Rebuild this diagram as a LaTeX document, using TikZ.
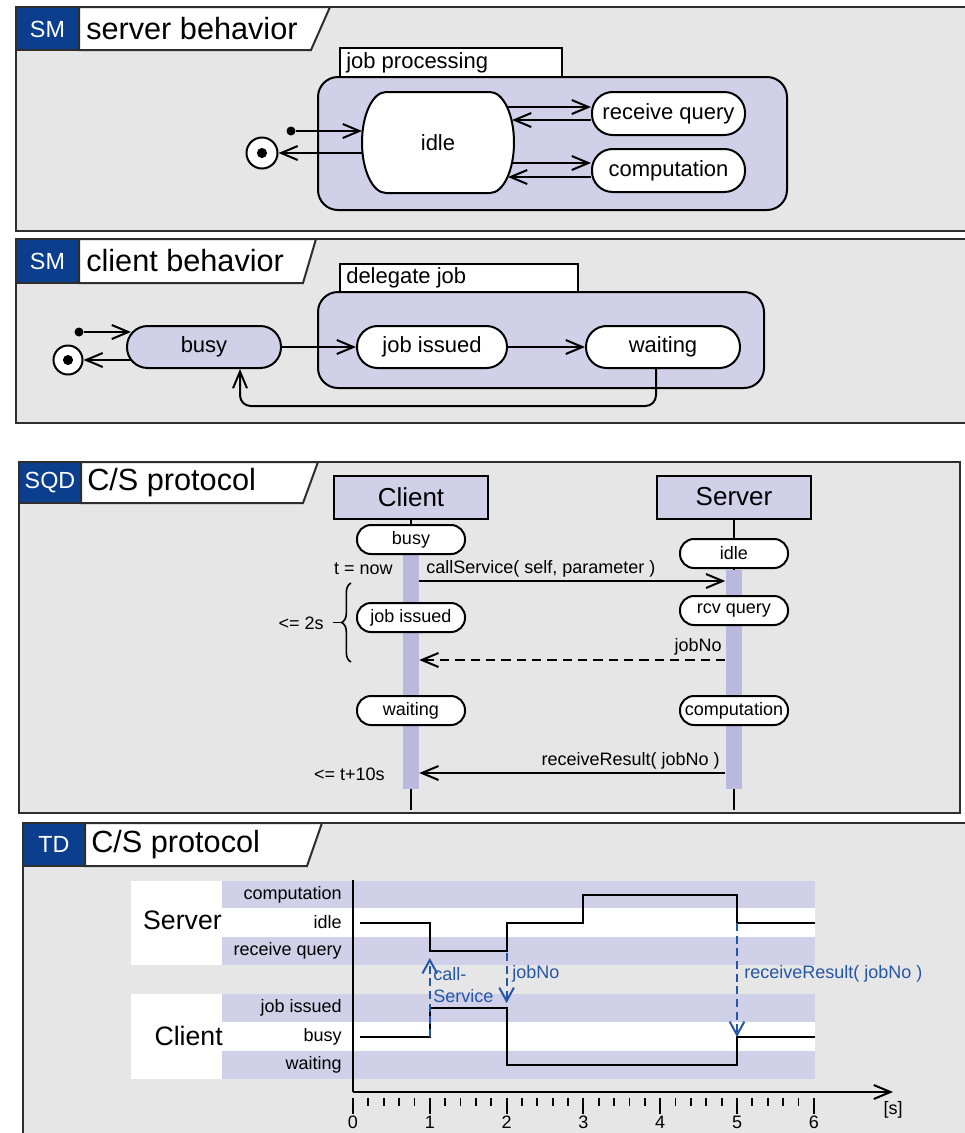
\documentclass[tikz,border=0pt]{standalone}
\usepackage{fontspec}
\setmainfont{Liberation Sans}
\usetikzlibrary{arrows.meta,decorations.pathreplacing,calc}
\definecolor{panelbg}{HTML}{E6E6E6}
\definecolor{lav}{HTML}{D0D0E8}
\definecolor{barcol}{HTML}{B9B9DD}
\definecolor{tabblue}{HTML}{0B3F8E}
\definecolor{msgblue}{HTML}{2656A6}
\definecolor{framecol}{HTML}{2E2E2E}
\newcommand\pxu{0.75pt}
\newcommand\fsz[1]{\fontsize{#1}{#1}\selectfont}
\begin{document}
\begin{tikzpicture}[x=0.75pt,y=-0.75pt,
  panel/.style={draw=framecol,line width=1.8pt,fill=panelbg},
  tabbox/.style={draw=framecol,line width=1.5pt,fill=tabblue},
  tabw/.style={draw=framecol,line width=1.5pt,fill=white},
  tabtxt/.style={text=white,font=\fsz{17.5},inner sep=0pt},
  titletxt/.style={font=\fsz{23},inner sep=0pt,anchor=west},
  comp/.style={draw,line width=1.5pt,fill=lav,rounded corners=15pt},
  ctab/.style={draw,line width=1.2pt,fill=white},
  ctabtxt/.style={font=\fsz{16.5},inner sep=0pt,anchor=west},
  stad/.style={draw,line width=1.5pt,fill=white,rectangle,rounded corners=#1,inner sep=1pt},
  smstate/.style={stad=15.5pt,minimum width=153*\pxu,minimum height=43*\pxu,font=\fsz{16.5}},
  sqstate/.style={stad=10.5pt,minimum width=108*\pxu,minimum height=29*\pxu,font=\fsz{13.5},inner xsep=0.5pt},
  head/.style={draw,line width=1.5pt,fill=lav,rectangle,minimum width=154*\pxu,minimum height=43*\pxu,font=\fsz{19.5},inner sep=0pt},
  barn/.style={fill=barcol,rectangle,minimum width=16*\pxu,inner sep=0pt},
  tr/.style={line width=1.5pt,-{Straight Barb[length=12.5pt,width=10.5pt]}},
  life/.style={line width=1.5pt},
  initdot/.style={circle,fill=black,inner sep=0pt,minimum size=9*\pxu},
  finalst/.style={circle,draw,line width=1.5pt,fill=white,inner sep=0pt,minimum size=31*\pxu,
    path picture={\fill[black] (path picture bounding box.center) circle (3.8pt);}},
  sqlbl/.style={font=\fsz{13.5},inner sep=0pt},
  tdlbl/.style={font=\fsz{13.5},inner sep=0pt},
  grplbl/.style={font=\fsz{20},inner sep=0pt},
  sig/.style={line width=1.6pt},
  bluearr/.style={draw=msgblue,line width=1.5pt,dash pattern=on 6pt off 3.5pt,-{Straight Barb[length=10pt,width=11pt]}},
  bluelbl/.style={text=msgblue,font=\fsz{13.5},inner sep=0pt}
]
\useasboundingbox (0,0) rectangle (965,1133);
\clip (0,0) rectangle (965,1133);
\fill[white] (0,0) rectangle (965,1133);

% ================= Panel 1: server behavior =================
\draw[panel] (16,7) rectangle (990,231);
\draw[tabw] (79,7) -- (330,7) -- (311,50) -- (79,50) -- cycle;
\draw[tabbox] (16,7) rectangle (79,50);
\node[tabtxt] (sm1) at (47.5,29) {SM};
\node[titletxt] (tt1) at (86,29) {server behavior};

\draw[ctab] (340,48) rectangle (562,77);
\node[ctabtxt] (jpl) at (346,63) {job processing};
\draw[comp] (318,77) rectangle (787,210);

\draw[line width=1.5pt,fill=white] (386,92) -- (490,92)
  arc[start angle=-90,end angle=90,x radius=24,y radius=50.5] -- (386,193)
  arc[start angle=90,end angle=270,x radius=24,y radius=50.5] -- cycle;
\node[font=\fsz{16.5}] (idle) at (438,142.5) {idle};
\coordinate (idlew1) at (362,131);
\coordinate (idlew2) at (362,153);
\coordinate (idlee1) at (508,107);
\coordinate (idlee2) at (512,120);
\coordinate (idlee3) at (512,163);
\coordinate (idlee4) at (508,177);

\node[smstate] (rq) at (668.5,113.5) {receive query};
\node[smstate] (cmp) at (668.5,170.5) {computation};

\draw[tr] (idlee1) -- (rq.west |- idlee1);
\draw[tr] (rq.west |- idlee2) -- (idlee2);
\draw[tr] (idlee3) -- (cmp.west |- idlee3);
\draw[tr] (cmp.west |- idlee4) -- (idlee4);

\node[initdot] (ini1) at (291,131) {};
\node[finalst] (fin1) at (262,153) {};
\draw[tr] (ini1) -- (idlew1);
\draw[tr] (idlew2) -- (fin1);

% ================= Panel 2: client behavior =================
\draw[panel] (16,239) rectangle (990,423);
\draw[tabw] (79,239) -- (316,239) -- (303,283) -- (79,283) -- cycle;
\draw[tabbox] (16,239) rectangle (79,283);
\node[tabtxt] (sm2) at (47.5,261) {SM};
\node[titletxt] (tt2) at (86,261) {client behavior};

\draw[ctab] (340,264) rectangle (578,292);
\node[ctabtxt] (djl) at (346,278) {delegate job};
\draw[comp] (318,292) rectangle (764,388);

\node[smstate,fill=lav,minimum width=154*\pxu,minimum height=42*\pxu] (busy) at (204,347) {busy};
\node[smstate,minimum width=150*\pxu,minimum height=42*\pxu] (jis) at (432,347) {job issued};
\node[smstate,minimum width=154*\pxu,minimum height=42*\pxu] (wait) at (663,347) {waiting};

\node[initdot] (ini2) at (79,332) {};
\node[finalst,minimum size=29*\pxu] (fin2) at (68,360) {};
\coordinate (busyw1) at (131,332);
\coordinate (busyw2) at (131,360);
\draw[tr] (ini2) -- (busyw1);
\draw[tr] (busyw2) -- (fin2);
\draw[tr] (busy) -- (jis);
\draw[tr] (jis) -- (wait);
\draw[tr,rounded corners=8pt] ($(wait.south)+(-7,0)$) |- ($(busy.south)+(36,37)$) -- ($(busy.south)+(36,0)$);

% ================= Panel 3: SQD =================
\draw[panel] (19,462) rectangle (960,813);
\draw[tabw] (81,462) -- (318,462) -- (303,503) -- (81,503) -- cycle;
\draw[tabbox] (19,462) rectangle (81,503);
\node[tabtxt] (sqd) at (50,482.5) {SQD};
\node[titletxt] (tt3) at (87,483) {C/S protocol};

\node[head] (client) at (411,497) {Client};
\node[head] (server) at (734,497) {Server};
\coordinate (cend) at (411,810);
\coordinate (send) at (734,810);
\draw[life] (client) -- (cend);
\draw[life] (server) -- (send);

\node[barn,minimum height=234*\pxu] (cbar) at (411,672) {};
\node[barn,minimum height=219*\pxu] (sbar) at (733.5,679.5) {};

\node[sqstate] (cbusy) at (411,539.5) {busy};
\node[sqstate] (cjob) at (411,617.5) {job issued};
\node[sqstate] (cwait) at (411,710.5) {waiting};
\node[sqstate] (sidle) at (734,553.5) {idle};
\node[sqstate] (srcv) at (734,610.5) {rcv query};
\node[sqstate] (scomp) at (734,710.5) {computation};

\coordinate (m1) at (0,581);
\coordinate (m2) at (0,660);
\coordinate (m3) at (0,773);
\draw[tr] (cbar.east |- m1) -- (sbar.west |- m1);
\draw[tr,dash pattern=on 7pt off 4.5pt] (sbar.west |- m2) -- (cbar.east |- m2);
\draw[tr] (sbar.west |- m3) -- (cbar.east |- m3);

\node[sqlbl,anchor=west] (l1) at (426,569) {callService( self, parameter )};
\node[sqlbl,anchor=east] (l2) at (393,569) {t = now};
\node[sqlbl,anchor=east] (l3) at (722,647) {jobNo};
\node[sqlbl,anchor=east] (l4) at (720,761) {receiveResult( jobNo )};
\node[sqlbl,anchor=east] (l5) at (385,774) {<= t+10s};
\node[sqlbl,anchor=east] (l6) at (324,623) {<= 2s};
\draw[line width=1.2pt,decorate,decoration={brace,amplitude=7pt}] (351,662) -- (351,583);
\draw[line width=1.2pt] (342,622.5) -- (333,622.5);

% ================= Panel 4: TD =================
\draw[panel] (23,823) rectangle (990,1150);
\draw[tabw] (85,823) -- (322,823) -- (307,866) -- (85,866) -- cycle;
\draw[tabbox] (23,823) rectangle (85,866);
\node[tabtxt] (td) at (54,844.5) {TD};
\node[titletxt] (tt4) at (91,845) {C/S protocol};

\fill[white] (131,881) rectangle (815,965);
\fill[lav] (222,881) rectangle (815,908);
\fill[lav] (222,937) rectangle (815,965);
\fill[white] (131,994) rectangle (815,1079);
\fill[lav] (222,994) rectangle (815,1022);
\fill[lav] (222,1051) rectangle (815,1079);

\node[tdlbl,anchor=east] (tcomp) at (342,894.5) {computation};
\node[tdlbl,anchor=east] (tidle) at (342,922.5) {idle};
\node[tdlbl,anchor=east] (trq) at (342,951) {receive query};
\node[tdlbl,anchor=east] (tji) at (342,1008) {job issued};
\node[tdlbl,anchor=east] (tbusy) at (342,1036.5) {busy};
\node[tdlbl,anchor=east] (twait) at (342,1065) {waiting};
\node[grplbl,anchor=east] (gserv) at (222,920) {Server};
\node[grplbl,anchor=east] (gcli) at (223,1036) {Client};

\draw[line width=1.5pt] (353,880) -- (353,1092);
\draw[tr] (353,1092) -- (893,1092);
\foreach \i in {0,...,30} \draw[line width=1.4pt] ({353+\i*15.36},1098) -- ({353+\i*15.36},1106);
\foreach \i in {0,...,6} {
  \draw[line width=1.4pt] ({353+\i*76.8},1098) -- ({353+\i*76.8},1114);
  \node[tdlbl] at ({353+\i*76.8},1122) {\i};
}
\node[tdlbl] (unit) at (893,1110) {[s]};

\draw[sig] (360,923) -- (429.8,923) -- (429.8,951) -- (506.6,951) -- (506.6,923) -- (583.4,923) -- (583.4,895) -- (737,895) -- (737,923) -- (815,923);
\draw[sig] (360,1037) -- (429.8,1037) -- (429.8,1008) -- (506.6,1008) -- (506.6,1065) -- (737,1065) -- (737,1037) -- (815,1037);

\draw[bluearr] (429.8,1037) -- (429.8,958);
\draw[bluearr] (506.6,953) -- (506.6,1003);
\draw[bluearr] (737,923) -- (737,1037);
\node[bluelbl,align=left,anchor=west,font=\fontsize{13.5}{16.5}\selectfont] (bl1) at (433,985) {call-\\Service};
\node[bluelbl,anchor=west] (bl2) at (512,974) {jobNo};
\node[bluelbl,anchor=west] (bl3) at (744,974) {receiveResult( jobNo )};
\end{tikzpicture}
\end{document}
